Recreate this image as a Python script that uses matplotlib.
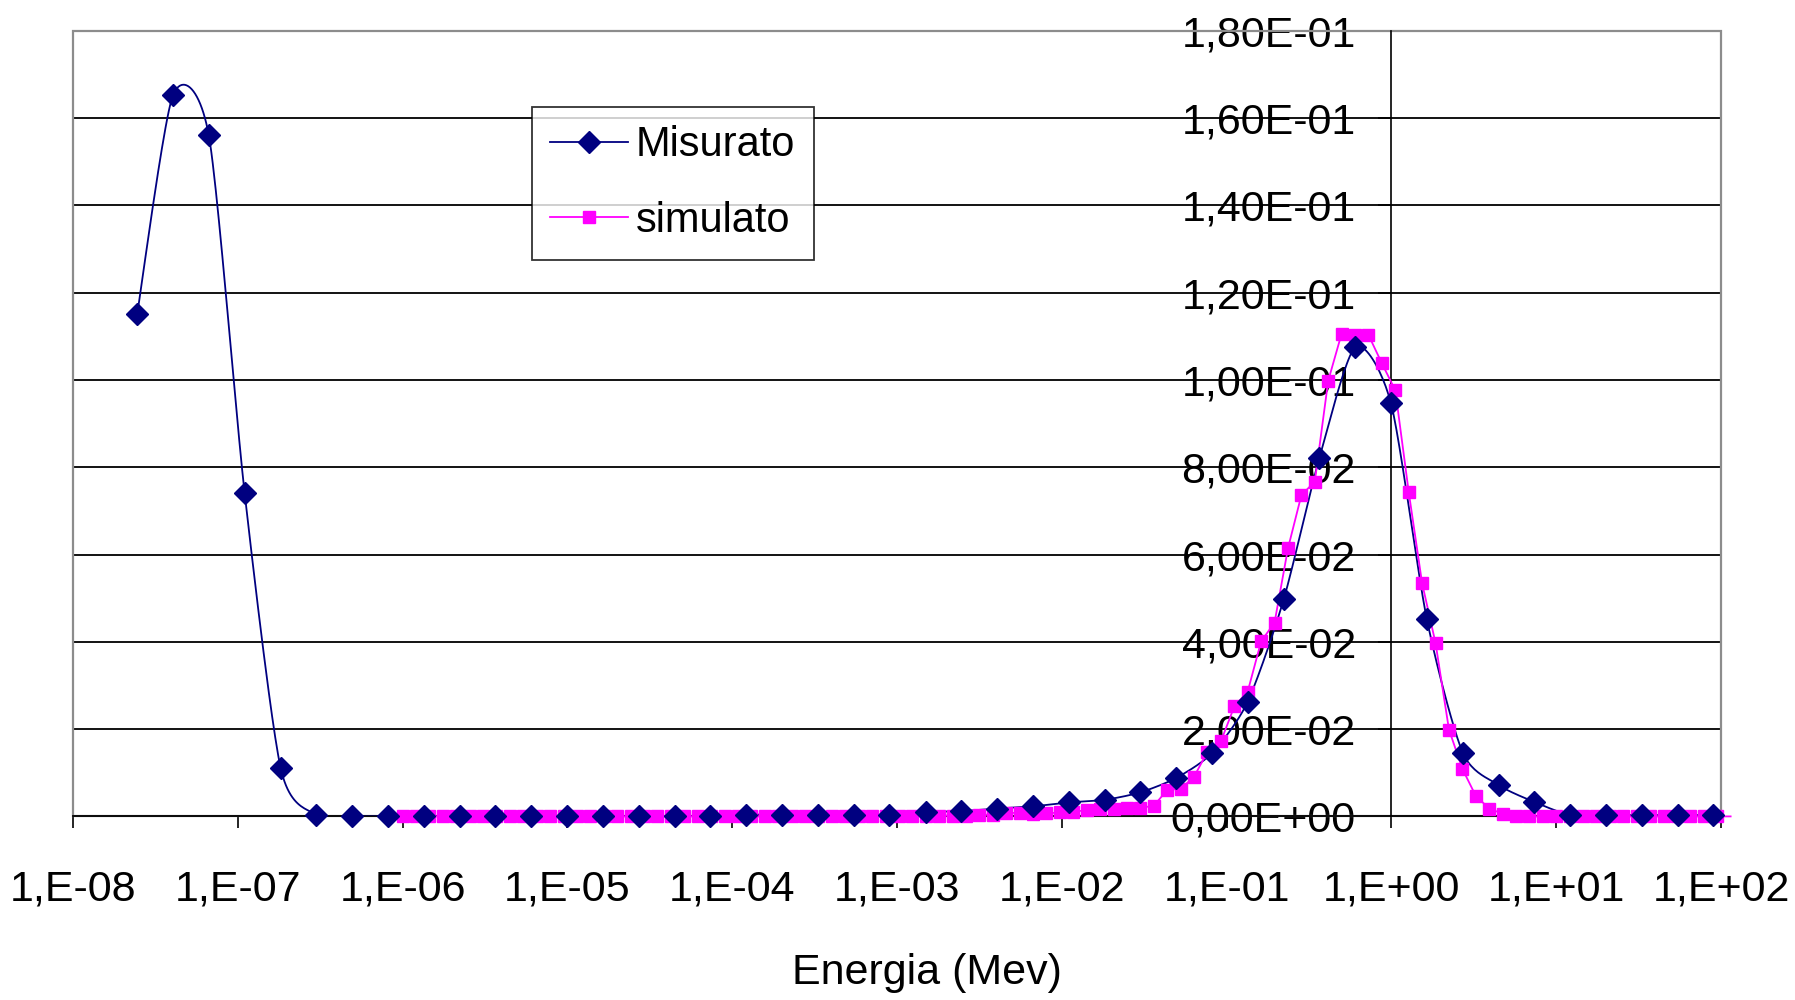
import numpy as np
import matplotlib
matplotlib.use("Agg")
import matplotlib.pyplot as plt
from matplotlib.lines import Line2D
from matplotlib.patches import Rectangle
from matplotlib.ticker import FuncFormatter, FixedLocator, NullLocator

plt.rcParams['font.family'] = ['Liberation Sans', 'DejaVu Sans']

# Misurato: energia (MeV) e valori
misurato_E = [2.45e-8, 4.04e-8, 6.67e-8, 1.10e-7, 1.82e-7, 2.99e-7, 4.93e-7, 8.14e-7,
              1.34e-6, 2.22e-6, 3.66e-6, 6.03e-6, 9.95e-6, 1.64e-5, 2.71e-5, 4.47e-5,
              7.37e-5, 1.22e-4, 2.01e-4, 3.31e-4, 5.46e-4, 9.00e-4, 1.49e-3, 2.45e-3,
              4.04e-3, 6.67e-3, 1.10e-2, 1.82e-2, 2.99e-2, 4.94e-2, 8.15e-2, 0.134,
              0.222, 0.366, 0.604, 0.995, 1.64, 2.71, 4.47, 7.37, 12.2, 20.0, 33.1,
              54.6, 90.0]
misurato_y = [0.1150, 0.1652, 0.1560, 0.0741, 0.0111, 0.0004, 0.0, 0.0,
              0.0, 0.0, 0.0, 0.0, 0.0, 0.0, 0.0, 0.0, 0.0,
              0.0004, 0.0004, 0.0004, 0.0004, 0.0004,
              0.0010, 0.0012, 0.0018, 0.0023, 0.0032, 0.0038, 0.0055, 0.0088,
              0.0145, 0.0262, 0.0497, 0.0822, 0.1075, 0.0946, 0.0452, 0.0146,
              0.0072, 0.0033,
              0.0003, 0.0003, 0.0003, 0.0003, 0.0003]

# Simulato: energia (MeV) e valori
simulato_E = [1.000e-6, 1.206e-6, 1.454e-6, 1.754e-6, 2.115e-6, 2.553e-6, 3.079e-6, 3.713e-6,
              4.478e-6, 5.401e-6, 6.513e-6, 7.858e-6, 9.480e-6, 1.143e-5, 1.379e-5, 1.663e-5,
              2.005e-5, 2.419e-5, 2.917e-5, 3.519e-5, 4.246e-5, 5.120e-5, 6.176e-5, 7.450e-5,
              8.990e-5, 1.084e-4, 1.307e-4, 1.577e-4, 1.902e-4, 2.294e-4, 2.767e-4, 3.337e-4,
              4.024e-4, 4.854e-4, 5.855e-4, 7.063e-4, 8.518e-4, 1.027e-3, 1.239e-3, 1.494e-3,
              1.803e-3, 2.174e-3, 2.622e-3, 3.163e-3, 3.815e-3, 4.603e-3, 5.550e-3, 6.695e-3,
              8.075e-3, 9.740e-3, 1.175e-2, 1.417e-2, 1.709e-2, 2.061e-2, 2.486e-2, 2.999e-2,
              3.617e-2, 4.362e-2, 5.261e-2, 6.346e-2, 7.656e-2, 9.235e-2, 0.1114, 0.1343,
              0.1620, 0.1954, 0.2357, 0.2843, 0.3429, 0.4136, 0.4989, 0.6017, 0.7257, 0.8753,
              1.056, 1.274, 1.536, 1.853, 2.235, 2.696, 3.251, 3.921, 4.730, 5.704, 6.881,
              8.299, 10.01, 12.07, 14.56, 17.56, 21.18, 25.55, 30.82, 37.17, 44.83, 54.08,
              65.22, 78.66, 94.88, 114.4]
simulato_y = [0.0] * 37 + [0.0002] * 6 + [0.0004] * 2 + [
              0.0008, 0.0008, 0.0006, 0.0007, 0.0009, 0.0011, 0.0014, 0.0017, 0.0018,
              0.0019, 0.0020, 0.0024, 0.0061, 0.0063, 0.0091, 0.0148, 0.0172, 0.0252,
              0.0286, 0.0401, 0.0444, 0.0614, 0.0736, 0.0767, 0.0998, 0.1106, 0.1103,
              0.1103, 0.1038, 0.0976, 0.0743, 0.0534, 0.0397, 0.0199, 0.0109, 0.0047,
              0.0018, 0.0006] + [0.0] * 17

y_ticks = [0.0, 0.02, 0.04, 0.06, 0.08, 0.10, 0.12, 0.14, 0.16, 0.18]
x_decades = [1e-8, 1e-7, 1e-6, 1e-5, 1e-4, 1e-3, 1e-2, 1e-1, 1e0, 1e1, 1e2]


def smooth_line(xs, ys, steps=24, k=8.0):
    # curva liscia tipo Excel (spline di Bezier in scala log x)
    lx = np.log10(np.asarray(xs, float))
    y = np.asarray(ys, float)
    P = np.column_stack([lx, y])
    P = np.vstack([P[0], P, P[-1]])
    out = []
    t = np.linspace(0, 1, steps)[:, None]
    for i in range(1, len(P) - 2):
        p0, p1, p2, p3 = P[i - 1], P[i], P[i + 1], P[i + 2]
        b1 = p1 + (p2 - p0) / k
        b2 = p2 - (p3 - p1) / k
        seg = ((1 - t) ** 3) * p1 + 3 * ((1 - t) ** 2) * t * b1 + 3 * (1 - t) * t ** 2 * b2 + t ** 3 * p2
        out.append(seg)
    out = np.vstack(out)
    return 10 ** out[:, 0], out[:, 1]


navy = '#000080'
magenta = '#FF00FF'

fig = plt.figure(figsize=(17.95, 10), dpi=100)
ax = fig.add_axes([73 / 1795, 1 - 816.4 / 1000, (1721 - 73) / 1795, (816.4 - 30.7) / 1000])
ax.set_xscale('log')
ax.set_xlim(1e-8, 1e2)
ax.set_ylim(0, 0.18)
ax.set_axisbelow(True)

sx, sy = smooth_line(misurato_E, misurato_y)
ax.plot(sx, sy, color=navy, lw=1.3, zorder=3)
ax.plot(misurato_E, misurato_y, linestyle='none', marker='D', ms=11, color=navy,
        clip_on=False, zorder=4)

ax.plot(simulato_E, simulato_y, color=magenta, lw=1.3, marker='s', ms=9,
        markevery=slice(0, len(simulato_E) - 1), clip_on=False, zorder=3.5)

# assi
ax.xaxis.set_major_locator(FixedLocator(x_decades))
ax.xaxis.set_minor_locator(NullLocator())
ax.xaxis.set_major_formatter(FuncFormatter(lambda v, p: "1,E%+03d" % int(round(np.log10(v)))))
ax.set_yticks(y_ticks)
ax.yaxis.set_major_formatter(FuncFormatter(lambda v, p: ("%.2E" % v).replace('.', ',')))

ax.yaxis.grid(True, color='black', lw=1.3)
ax.tick_params(axis='x', direction='out', length=8.5, width=1.2, pad=30, labelsize=31)
ax.tick_params(axis='y', direction='out', length=9.5, width=1.2, pad=16, labelsize=31)

for s in ['top', 'right']:
    ax.spines[s].set_visible(False)
ax.spines['bottom'].set_color('black')
ax.spines['bottom'].set_linewidth(1.3)
ax.spines['bottom'].set_zorder(1)
ax.spines['left'].set_position(('data', 1.0))
ax.spines['left'].set_color('black')
ax.spines['left'].set_linewidth(1.2)
ax.spines['left'].set_zorder(1)

ax.add_patch(Rectangle((0, 0), 1, 1, transform=ax.transAxes, fill=False,
                       edgecolor='#8c8c8c', lw=1.6, clip_on=False, zorder=0.8))

fig.text(927 / 1795, 1 - 973 / 1000, 'Energia (Mev)', fontsize=31, ha='center', va='center')

handles = [Line2D([], [], color=navy, lw=1.3, marker='D', ms=11),
           Line2D([], [], color=magenta, lw=1.3, marker='s', ms=9)]
leg = fig.legend(handles, ['Misurato', 'simulato'], loc='upper left',
                 bbox_to_anchor=(531.7 / 1795, 1 - 106.7 / 1000), borderaxespad=0,
                 fontsize=30, frameon=True, fancybox=False, edgecolor='black',
                 handlelength=1.85, handletextpad=0.2, borderpad=0.45, labelspacing=0.85)
leg.get_frame().set_linewidth(1.3)

fig.savefig('out.png', dpi=100)
